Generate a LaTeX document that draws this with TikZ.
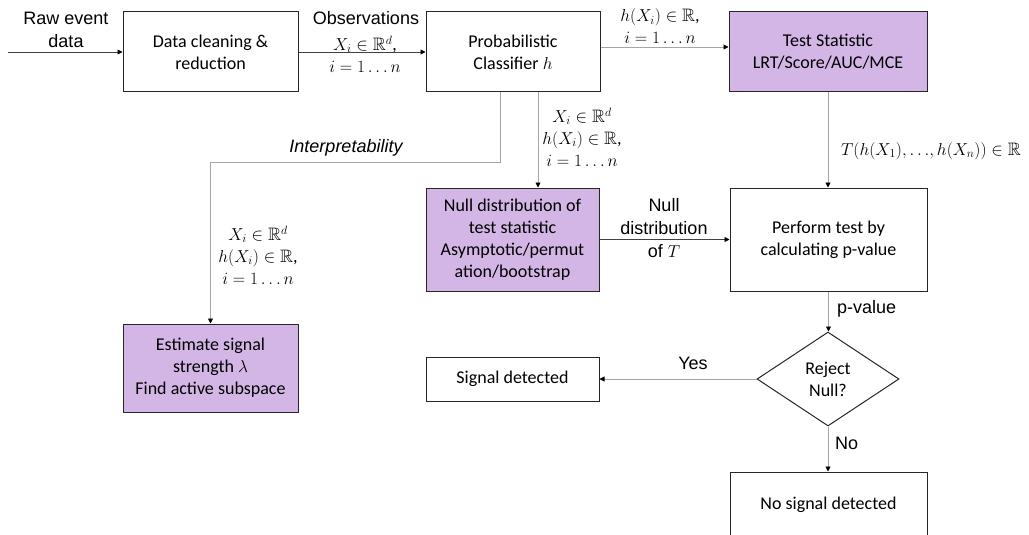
\documentclass[tikz,border=0pt]{standalone}
\usepackage{amsmath,amssymb}
\usepackage[no-math]{fontspec}
\setmainfont{Carlito}
\newfontfamily\arialfont{Liberation Sans}
\usetikzlibrary{shapes.geometric,arrows.meta}
\definecolor{lilacfill}{RGB}{211,182,230}
\definecolor{linegray}{RGB}{165,165,165}

\begin{document}
\begin{tikzpicture}[x=1pt, y=-1pt,
    font=\fontsize{18}{22}\selectfont,
    box/.style={draw=black!85, line width=1pt, align=center, inner sep=0pt},
    purplebox/.style={box, fill=lilacfill},
    lbl/.style={font=\arialfont\fontsize{18}{23}\selectfont, align=center, inner sep=0pt},
    mlbl/.style={font=\fontsize{18}{22}\selectfont, align=center, inner sep=0pt},
    conn/.style={draw=linegray, line width=0.9pt, -{Triangle[length=5pt,width=5pt,color=black]}},
    darkconn/.style={conn, draw=black!75}]
        \useasboundingbox (0,0) rectangle (1029,535);
        % boxes
        \node[box, minimum width=175, minimum height=80] (clean) at (210.5,52) {Data cleaning \&\\reduction};
        \node[box, minimum width=174, minimum height=80] (clf) at (513,52) {Probabilistic\\Classifier $h$};
        \node[purplebox, minimum width=198, minimum height=80] (stat) at (828,52) {Test Statistic\\LRT/Score/AUC/MCE};
        \node[purplebox, minimum width=173, minimum height=103] (nulld) at (512.5,239.5) {Null distribution of\\test statistic\\Asymptotic/permut\\ation/bootstrap};
        \node[box, minimum width=197, minimum height=103] (perform) at (828.5,239.5) {Perform test by\\calculating p-value};
        \node[purplebox, minimum width=175, minimum height=88] (est) at (210.5,368) {Estimate signal\\strength $\lambda$\\Find active subspace};
        \node[box, minimum width=173, minimum height=44] (sigdet) at (512.5,379) {Signal detected};
        \node[box, diamond, aspect=1.5, minimum width=142, minimum height=94] (reject) at (828,379) {Reject\\Null?};
        \node[box, minimum width=197, minimum height=66] (nosig) at (828.5,505) {No signal detected};
        % input
        \coordinate (rawin) at (8,52);
        \draw[darkconn] (rawin) -- (clean);
        \node[lbl] (rawlbl) at (66,30) {Raw event\\data};
        % observations
        \draw[darkconn] (clean) -- (clf);
        \node[lbl] (obslbl) at (366,18) {Observations};
        \node[mlbl] (obsmath) at (365,54) {$X_i\in\mathbb{R}^d$,\\$i=1\ldots n$};
        % classifier outputs
        \draw[conn] ([yshift=5pt]clf.east) -- ([yshift=5pt]stat.west);
        \node[mlbl] (hlbl) at (660,26) {$h(X_i)\in\mathbb{R}$,\\$i=1\ldots n$};
        \draw[conn] ([xshift=-13pt]clf.south) -- ++(0,70) -| (est.north);
        \node[lbl, font=\arialfont\itshape\fontsize{18}{23}\selectfont] (interp) at (346,148) {Interpretability};
        \node[mlbl] (leftlbl) at (258,255) {$X_i\in\mathbb{R}^d$\\$h(X_i)\in\mathbb{R}$,\\$i=1\ldots n$};
        \draw[conn] ([xshift=25pt]clf.south) -- ([xshift=25.5pt]nulld.north);
        \node[mlbl] (midlbl) at (582,137) {$X_i\in\mathbb{R}^d$\\$h(X_i)\in\mathbb{R}$,\\$i=1\ldots n$};
        % test
        \draw[conn] (stat.south) -- (stat.south |- perform.north);
        \node[mlbl] (tlbl) at (931,151) {$T(h(X_1),{\ldots},h(X_n))\in\mathbb{R}$};
        \draw[darkconn] (nulld) -- (perform);
        \node[lbl] (nulllbl) at (664,228) {Null\\distribution\\of $T$};
        \draw[conn] (perform.south) -- (perform.south |- reject.north);
        \node[lbl, anchor=west] (pval) at (837,309) {p-value};
        % decision
        \draw[conn] (reject) -- (sigdet);
        \node[lbl] (yes) at (693,363) {Yes};
        \draw[conn] (reject.south) -- (reject.south |- nosig.north);
        \node[lbl, anchor=west] (no) at (835,443) {No};
      \end{tikzpicture}
\end{document}
